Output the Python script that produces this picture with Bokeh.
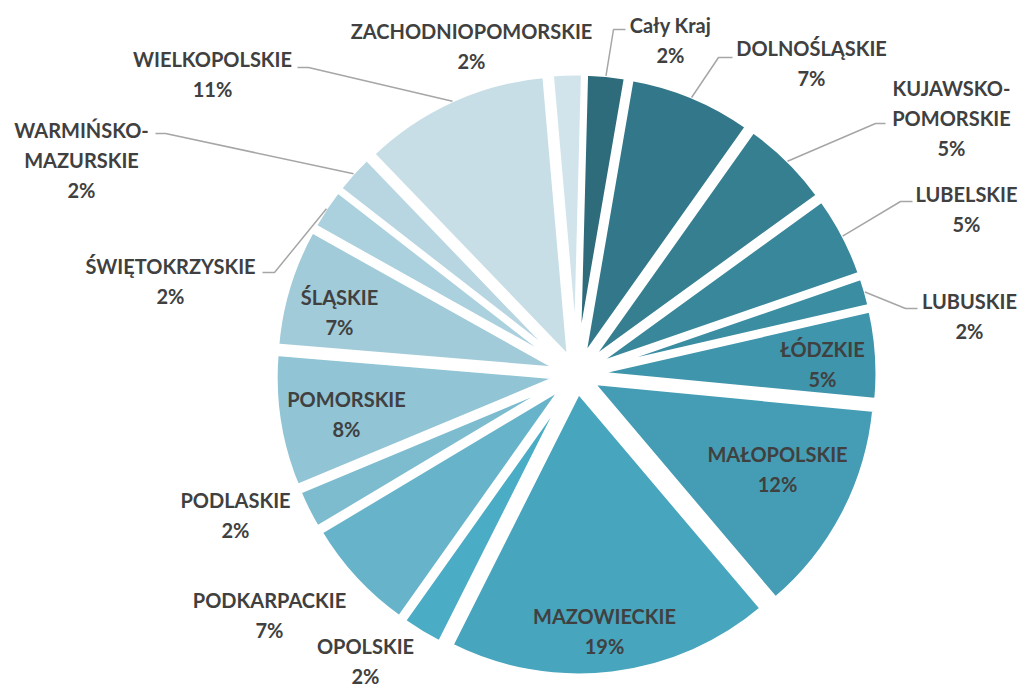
import math
from bokeh.plotting import figure
from bokeh.models import Range1d, ColumnDataSource
from bokeh.embed import file_html
from bokeh.resources import INLINE
from bokeh.core.properties import value

# ---------------- data ----------------
regions = ["Cały Kraj", "DOLNOŚLĄSKIE", "KUJAWSKO-POMORSKIE", "LUBELSKIE", "LUBUSKIE",
           "ŁÓDZKIE", "MAŁOPOLSKIE", "MAZOWIECKIE", "OPOLSKIE", "PODKARPACKIE",
           "PODLASKIE", "POMORSKIE", "ŚLĄSKIE", "ŚWIĘTOKRZYSKIE", "WARMIŃSKO-MAZURSKIE",
           "WIELKOPOLSKIE", "ZACHODNIOPOMORSKIE"]
shares = [2.3, 7.1, 5.2, 4.7, 1.7, 5.1, 12.3, 18.6, 2.4, 6.6, 2.3, 7.6, 6.8, 2.4, 2.3, 10.8, 1.8]

# ---------------- styles ----------------
colors = ["#2E6C7C", "#32788A", "#357F91", "#38879A", "#3B8DA2", "#3F95AB", "#449DB4",
          "#47A5BD", "#4BACC6", "#67B4CA", "#7DBCCF", "#91C4D4", "#A2CBDA", "#ABD0DE",
          "#B7D6E2", "#C7DEE6", "#D1E4EB"]
TEXT_COLOR = "#404040"
LEADER_COLOR = "#A6A6A6"
FONT = "Lato"
FONT_SIZE = 20

W, H = 1022, 688
def X(px):
    return px
def Y(py):
    return H - py

# pie layout (reference pixel coordinates)
CX, CY = 576, 374
R_VIS = 282
BORDER = 5
EXPLODE = 17
START_DEG = 1.5

# label layout: centre x, centre y of first text line (reference pixels)
label_pos = [(670, 24), (811, 47), (951, 87), (966, 193), (969, 300), (822, 348),
             (777, 453), (604, 615), (365, 645), (269, 599), (235, 499), (346, 398),
             (339, 296), (170, 265), (81, 129), (212, 58), (471, 30)]
LINE_STEP = 30
# leader lines: slice index -> (elbow, end) in reference pixels
leaders = {0: ((613, 29), (625, 29)), 1: ((718, 57), (732, 57)),
           2: ((875, 123), (885, 123)), 3: ((900, 201), (912, 201)),
           4: ((905, 308), (917, 308)), 13: ((274, 272), (262, 272)),
           14: ((165, 133), (155, 133)), 15: ((308, 67), (297, 67))}

# ---------------- geometry ----------------
total = sum(shares)
xs, ys, starts, ends, mids = [], [], [], [], []
acc = 0.0
for v in shares:
    t1 = START_DEG + acc / total * 360.0
    acc += v
    t2 = START_DEG + acc / total * 360.0
    m = math.radians((t1 + t2) / 2)
    mids.append(m)
    px = CX + EXPLODE * math.sin(m)
    py = CY - EXPLODE * math.cos(m)
    xs.append(X(px))
    ys.append(Y(py))
    starts.append(math.radians(90 - t2))
    ends.append(math.radians(90 - t1))

p = figure(width=W, height=H, output_backend="svg", toolbar_location=None,
           x_range=Range1d(0, W), y_range=Range1d(0, H), min_border=0,
           background_fill_color="white", border_fill_color="white")
p.axis.visible = False
p.xgrid.visible = False
p.ygrid.visible = False
p.outline_line_color = None

src = ColumnDataSource(dict(x=xs, y=ys, start=starts, end=ends, color=colors, name=regions))
p.wedge(x="x", y="y", radius=R_VIS + BORDER / 2, start_angle="start", end_angle="end",
        fill_color="color", line_color="white", line_width=BORDER, source=src)

# leader lines
lx, ly = [], []
for i, (elbow, end) in leaders.items():
    m = mids[i]
    sx = xs[i] + (R_VIS + 1) * math.sin(m)
    sy = ys[i] + (R_VIS + 1) * math.cos(m)
    lx.append([sx, X(elbow[0]), X(end[0])])
    ly.append([sy, Y(elbow[1]), Y(end[1])])
p.multi_line(xs=lx, ys=ly, line_color=LEADER_COLOR, line_width=1.5)

# labels
tx, ty, tt = [], [], []
for i, name in enumerate(regions):
    pct = f"{round(shares[i] / total * 100)}%"
    if "-" in name:
        a, b = name.split("-", 1)
        lines = [a + "-", b, pct]
    else:
        lines = [name, pct]
    x0, y0 = label_pos[i]
    for k, line in enumerate(lines):
        tx.append(X(x0))
        ty.append(Y(y0 + k * LINE_STEP))
        tt.append(line)
p.text(x=tx, y=ty, text=tt, text_align="center", text_baseline="middle",
       text_font=value(FONT), text_font_style="bold", text_font_size=f"{FONT_SIZE}px",
       text_color=TEXT_COLOR)

open("out.html", "w").write(file_html(p, INLINE))
